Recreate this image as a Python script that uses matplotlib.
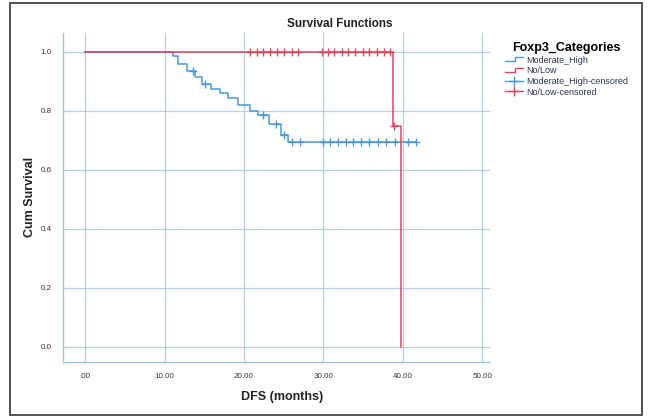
import numpy as np
import matplotlib
matplotlib.use('Agg')
import matplotlib.pyplot as plt
from matplotlib.lines import Line2D
from matplotlib.legend_handler import HandlerBase
from matplotlib.patches import Rectangle

plt.rcParams['font.family'] = ['Liberation Sans', 'DejaVu Sans']

# Moderate_High: step times (months) and survival after each step
mh_times = [0, 11.0, 11.7, 12.8, 13.8, 14.7, 15.9, 17.0, 18.0, 19.2, 20.8, 21.8, 23.1, 24.7, 25.6]
mh_surv = [1.0, 0.985, 0.96, 0.935, 0.915, 0.89, 0.875, 0.86, 0.845, 0.82, 0.80, 0.785, 0.755, 0.72, 0.696]
mh_end = 41.7
mh_cens_t = [13.6, 15.1, 22.4, 24.0, 25.1, 26.0, 27.0, 30.0, 30.8, 31.9, 32.9, 33.7, 34.8, 35.8,
             36.9, 37.9, 39.0, 40.7, 41.7]

# No/Low
nl_times = [0, 38.8, 39.8]
nl_surv = [1.0, 0.75, 0.0]
nl_end = 39.8
nl_cens_t = [20.8, 21.6, 22.4, 23.3, 24.2, 25.0, 26.0, 26.8, 29.8, 30.6, 31.4, 32.3, 33.1, 34.0,
             35.0, 35.8, 36.7, 37.7, 38.4, 38.9]

xticks = [0, 10, 20, 30, 40, 50]
xticklabels = ['.00', '10.00', '20.00', '30.00', '40.00', '50.00']
yticks = [0.0, 0.2, 0.4, 0.6, 0.8, 1.0]

blue = '#4b97d2'
red = '#d4485c'
grid_c = '#b3d2e8'


def step_xy(times, surv, end):
    x = list(times) + [end]
    y = list(surv) + [surv[-1]]
    return x, y


def surv_at(times, surv, t):
    idx = np.searchsorted(times, t, side='right') - 1
    return surv[idx]


class StepHandler(HandlerBase):
    def create_artists(self, legend, orig_handle, xdescent, ydescent, width, height, fontsize, trans):
        xs = [0, width * 0.55, width * 0.55, width]
        ys = [height * 0.2, height * 0.2, height * 0.85, height * 0.85]
        ln = Line2D(xs, ys, color=orig_handle.get_color(), lw=1.0, transform=trans)
        return [ln]


fig = plt.figure(figsize=(6.52, 4.19), dpi=100)
ax = fig.add_axes([63 / 652, 1 - 362 / 419, (490 - 63) / 652, (362 - 33) / 419])

ax.set_xlim(-2.8, 51)
ax.set_ylim(-0.051, 1.064)
for t in xticks:
    ax.axvline(t, color=grid_c, lw=0.9, zorder=0)
for t in yticks:
    ax.axhline(t, color=grid_c, lw=0.9, zorder=0)

x, y = step_xy(mh_times, mh_surv, mh_end)
ax.step(x, y, where='post', color=blue, lw=1.1, zorder=3)
x, y = step_xy(nl_times, nl_surv, nl_end)
ax.step(x, y, where='post', color=red, lw=1.1, zorder=3)

mh_cy = [surv_at(mh_times, mh_surv, t) for t in mh_cens_t]
nl_cy = [surv_at(nl_times, nl_surv, t) for t in nl_cens_t]
ax.plot(mh_cens_t, mh_cy, ls='none', marker='+', ms=6, mew=1.0, color=blue, zorder=4)
ax.plot(nl_cens_t, nl_cy, ls='none', marker='+', ms=6, mew=1.0, color=red, zorder=4)

ax.set_xticks(xticks)
ax.set_xticklabels(xticklabels)
ax.set_yticks(yticks)
ax.set_yticklabels(['%.1f' % v for v in yticks])
ax.tick_params(length=0, labelsize=5.8, colors='#333333', pad=8)
for s in ['top', 'right']:
    ax.spines[s].set_visible(False)
for s in ['left', 'bottom']:
    ax.spines[s].set_color('#9fc4df')
    ax.spines[s].set_linewidth(1.0)

fig.text(30 / 652, 1 - 197 / 419, 'Cum Survival', rotation=90, ha='center', va='center',
         fontsize=9, fontweight='bold', color='#222222')
fig.text(282 / 652, 1 - 397 / 419, 'DFS (months)', ha='center', va='center',
         fontsize=9, fontweight='bold', color='#222222')
fig.text(340 / 652, 1 - 24 / 419, 'Survival Functions', ha='center', va='center',
         fontsize=8.5, fontweight='bold', color='#222222')

h1 = Line2D([], [], color=blue)
h2 = Line2D([], [], color=red)
h3 = Line2D([], [], color=blue, marker='+', ms=7, lw=1.0)
h4 = Line2D([], [], color=red, marker='+', ms=7, lw=1.0)
leg = fig.legend([h1, h2, h3, h4],
                 ['Moderate_High', 'No/Low', 'Moderate_High-censored', 'No/Low-censored'],
                 handler_map={h1: StepHandler(), h2: StepHandler()},
                 loc='upper left', bbox_to_anchor=(497 / 652, 1 - 34 / 419),
                 frameon=False, fontsize=6.5, handlelength=2.0, handletextpad=0.3,
                 labelspacing=0.18, title='Foxp3_Categories',
                 title_fontproperties={'weight': 'bold', 'size': 9})
for t in leg.get_texts():
    t.set_color('#2a3550')

fig.patches.append(Rectangle((10 / 652, 1 - 415 / 419), 632 / 652, 412 / 419,
                             transform=fig.transFigure, fill=False, ec='#333333', lw=1.2))

fig.savefig('out.png', dpi=100)
